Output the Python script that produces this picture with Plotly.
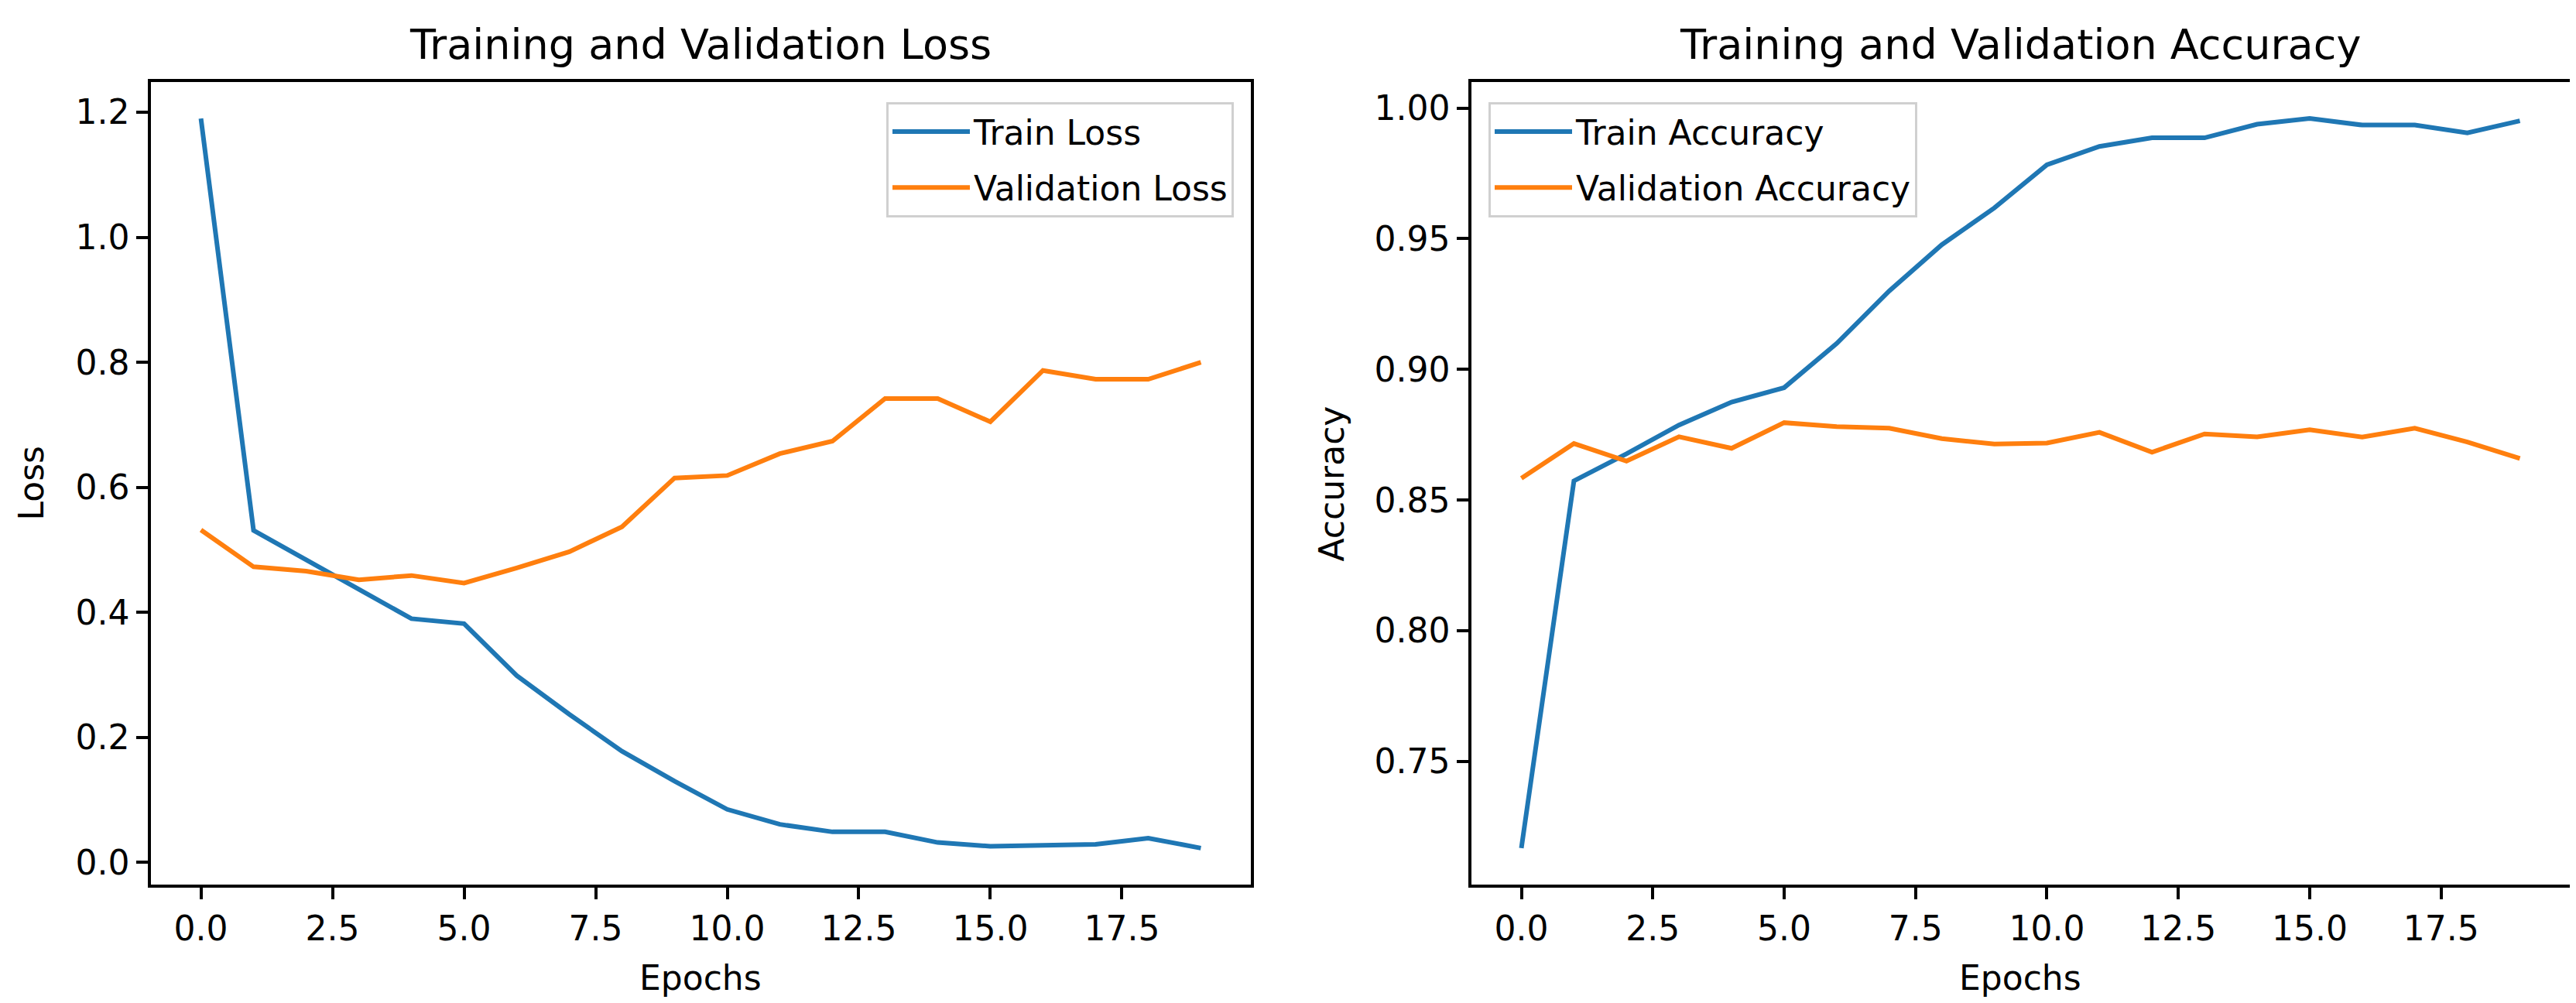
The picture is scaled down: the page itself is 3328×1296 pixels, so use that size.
import plotly.graph_objects as go

epochs = list(range(20))
train_loss = [1.19, 0.531, 0.484, 0.437, 0.390, 0.382, 0.299, 0.237, 0.178, 0.130,
              0.085, 0.061, 0.049, 0.049, 0.032, 0.026, 0.028, 0.029, 0.039, 0.023]
val_loss = [0.532, 0.473, 0.466, 0.452, 0.459, 0.447, 0.471, 0.497, 0.537, 0.615,
            0.619, 0.654, 0.674, 0.742, 0.742, 0.705, 0.787, 0.773, 0.773, 0.800]
train_acc = [0.7168, 0.8573, 0.8677, 0.8787, 0.8875, 0.8930, 0.9099, 0.9300, 0.9477, 0.9618,
             0.9783, 0.9853, 0.9886, 0.9886, 0.9938, 0.9960, 0.9935, 0.9935, 0.9905, 0.9951]
val_acc = [0.8583, 0.8716, 0.8649, 0.8742, 0.8698, 0.8796, 0.8781, 0.8775, 0.8735, 0.8714,
           0.8718, 0.8759, 0.8683, 0.8753, 0.8742, 0.8769, 0.8741, 0.8775, 0.8722, 0.8659]

x_ticks = [0.0, 2.5, 5.0, 7.5, 10.0, 12.5, 15.0, 17.5]
loss_ticks = [0.0, 0.2, 0.4, 0.6, 0.8, 1.0, 1.2]
acc_ticks = [0.75, 0.80, 0.85, 0.90, 0.95, 1.00]

BLUE = "#1f77b4"
ORANGE = "#ff7f0e"
FONT = "DejaVu Sans"
W, H = 3328, 1296


def margin_range(vals, frac=0.05):
    lo, hi = min(vals), max(vals)
    pad = (hi - lo) * frac
    return [lo - pad, hi + pad]


fig = go.Figure()
fig.add_trace(go.Scatter(x=epochs, y=train_loss, mode="lines", name="Train Loss",
                         line=dict(color=BLUE, width=6), xaxis="x", yaxis="y",
                         legend="legend", legendgroup="a"))
fig.add_trace(go.Scatter(x=epochs, y=val_loss, mode="lines", name="Validation Loss",
                         line=dict(color=ORANGE, width=6), xaxis="x", yaxis="y",
                         legend="legend", legendgroup="b"))
fig.add_trace(go.Scatter(x=epochs, y=train_acc, mode="lines", name="Train Accuracy",
                         line=dict(color=BLUE, width=6), xaxis="x2", yaxis="y2",
                         legend="legend2", legendgroup="c"))
fig.add_trace(go.Scatter(x=epochs, y=val_acc, mode="lines", name="Validation Accuracy",
                         line=dict(color=ORANGE, width=6), xaxis="x2", yaxis="y2",
                         legend="legend2", legendgroup="d"))

axis_common = dict(showline=True, linecolor="black", linewidth=3.5, mirror=True,
                   ticks="outside", ticklen=15, tickwidth=3.5, tickcolor="black",
                   showgrid=False, zeroline=False,
                   tickfont=dict(family=FONT, size=44, color="black"))

y_top = 1 - 98 / H
y_bot = 1 - 1135 / H

legend_common = dict(yanchor="top", bgcolor="rgba(255,255,255,0.8)",
                     bordercolor="#d0d0d0", borderwidth=3,
                     font=dict(family=FONT, size=44, color="black"),
                     itemwidth=100, tracegroupgap=12)

fig.update_layout(
    width=W, height=H,
    margin=dict(l=0, r=0, t=0, b=0),
    paper_bgcolor="white", plot_bgcolor="white",
    font=dict(family=FONT, color="black"),
    xaxis=dict(domain=[187 / W, 1608 / W], anchor="y", range=margin_range(epochs),
               tickvals=x_ticks, ticktext=[f"{v:.1f}" for v in x_ticks], **axis_common),
    yaxis=dict(domain=[y_bot, y_top], anchor="x", range=margin_range(train_loss + val_loss),
               tickvals=loss_ticks, ticktext=[f"{v:.1f}" for v in loss_ticks], **axis_common),
    xaxis2=dict(domain=[1893 / W, 3312 / W], anchor="y2", range=margin_range(epochs),
                tickvals=x_ticks, ticktext=[f"{v:.1f}" for v in x_ticks], **axis_common),
    yaxis2=dict(domain=[y_bot, y_top], anchor="x2", range=margin_range(train_acc + val_acc),
                tickvals=acc_ticks, ticktext=[f"{v:.2f}" for v in acc_ticks], **axis_common),
    legend=dict(x=1586 / W, y=1 - 124 / H, xanchor="right", **legend_common),
    legend2=dict(x=1915 / W, y=1 - 124 / H, xanchor="left", **legend_common),
    showlegend=True,
)

annots = [
    dict(text="Training and Validation Loss", x=897 / W, y=1 - 50 / H, size=54, angle=0),
    dict(text="Training and Validation Accuracy", x=2602 / W, y=1 - 50 / H, size=54, angle=0),
    dict(text="Epochs", x=897 / W, y=1 - 1255 / H, size=44, angle=0),
    dict(text="Epochs", x=2602 / W, y=1 - 1255 / H, size=44, angle=0),
    dict(text="Loss", x=32 / W, y=(y_top + y_bot) / 2, size=44, angle=-90),
    dict(text="Accuracy", x=1712 / W, y=(y_top + y_bot) / 2, size=44, angle=-90),
]
for a in annots:
    fig.add_annotation(text=a["text"], x=a["x"], y=a["y"], xref="paper", yref="paper",
                       xanchor="center", yanchor="middle", showarrow=False,
                       textangle=a["angle"], font=dict(family=FONT, size=a["size"], color="black"))

fig.write_html("out.html")
